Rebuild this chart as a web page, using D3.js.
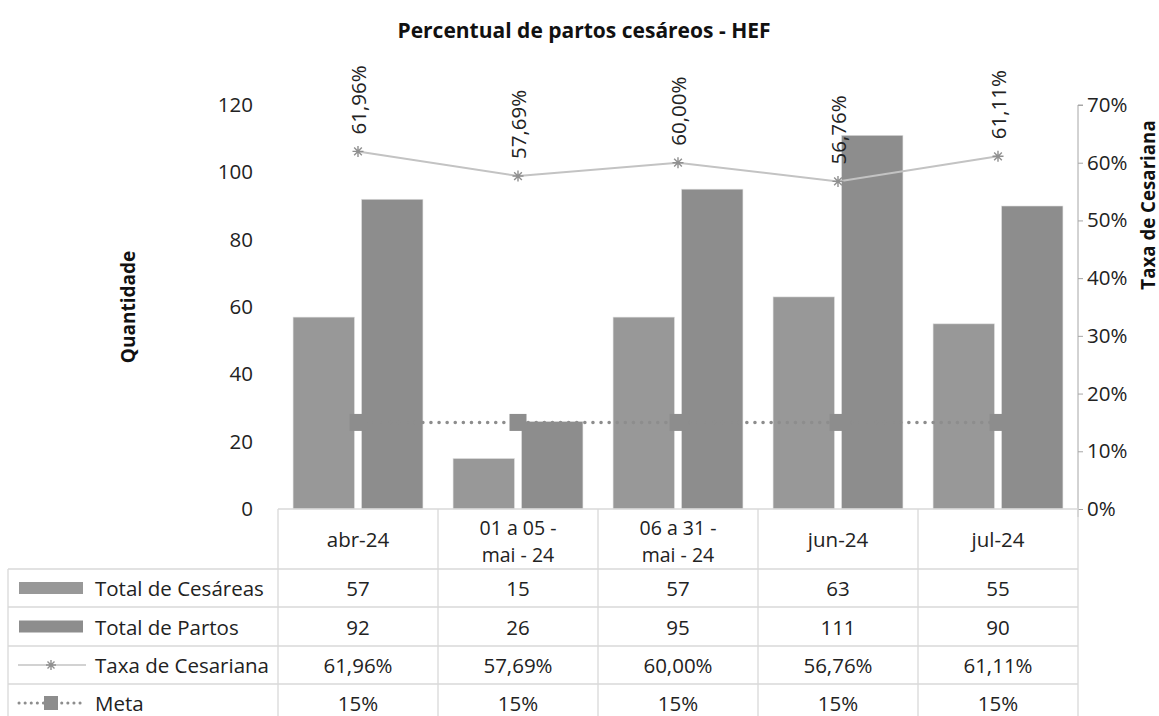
<!DOCTYPE html>
<html><head><meta charset="utf-8">
<script src="https://cdn.jsdelivr.net/npm/d3@7"></script>
<style>body{margin:0;background:#fff;}text{font-family:"Open Sans",sans-serif;}</style>
</head><body><svg id="c" width="1159" height="716"></svg>
<script>
const categories = [["abr-24"],["01 a 05 -","mai - 24"],["06 a 31 -","mai - 24"],["jun-24"],["jul-24"]];
const cesareas = [57,15,57,63,55];
const partos = [92,26,95,111,90];
const taxa = [61.96,57.69,60.00,56.76,61.11];
const meta = [15,15,15,15,15];
const leftTicks = [0,20,40,60,80,100,120];
const rightTicks = [0,10,20,30,40,50,60,70];
const fmt = v => v.toFixed(2).replace(".", ",") + "%";

const FS = 20.5;
const FF = "'Open Sans',sans-serif";
const svg = d3.select("#c");
const L = 278, R = 1078, T = 105, B = 509;
const x = d3.scaleBand().domain(d3.range(5)).range([L,R]);
const inner = d3.scaleBand().domain([0,1]).range([0,x.bandwidth()]).paddingInner(0.103).paddingOuter(0.22);
const yL = d3.scaleLinear().domain([0,120]).range([B,T]);
const yR = d3.scaleLinear().domain([0,70]).range([B,T]);
const cCes = "#989898", cPar = "#8d8d8d", cGrid = "#d9d9d9";

// title
svg.append("text").attr("x",584).attr("y",38).attr("text-anchor","middle")
  .attr("font-size",21).attr("font-weight","bold").attr("fill","#111").text("Percentual de partos cesáreos - HEF");

// left axis
const ga = svg.append("g").attr("transform",`translate(${L},0)`)
  .call(d3.axisLeft(yL).tickValues(leftTicks).tickSize(0).tickPadding(25));
ga.select(".domain").remove();
ga.selectAll("text").attr("font-size",FS).attr("fill","#222").style("font-family",FF);
// right axis
const gr = svg.append("g").attr("transform",`translate(${R},0)`)
  .call(d3.axisRight(yR).tickValues(rightTicks).tickSize(5).tickPadding(4).tickFormat(d=>d+"%"));
gr.select(".domain").attr("stroke","#a6a6a6");
gr.selectAll(".tick line").attr("stroke","#a6a6a6");
gr.selectAll("text").attr("font-size",FS).attr("fill","#222").style("font-family",FF);
gr.select(".domain").attr("d",`M5,${T}H0V${B+8}`);

svg.append("text").attr("transform",`translate(135,${(T+B)/2}) rotate(-90)`).attr("text-anchor","middle")
  .attr("font-size",19).attr("font-weight","bold").attr("fill","#111").text("Quantidade");
svg.append("text").attr("transform",`translate(1155,205) rotate(-90)`).attr("text-anchor","middle")
  .attr("font-size",18.7).attr("font-weight","bold").attr("fill","#111").text("Taxa de Cesariana");

// bars
svg.append("g").selectAll("rect").data(cesareas).join("rect")
  .attr("x",(d,i)=>x(i)+inner(0)).attr("width",inner.bandwidth())
  .attr("y",d=>yL(d)).attr("height",d=>B-yL(d)).attr("fill",cCes).attr("stroke","#e0e0e0").attr("stroke-width",0.6);
svg.append("g").selectAll("rect").data(partos).join("rect")
  .attr("x",(d,i)=>x(i)+inner(1)).attr("width",inner.bandwidth())
  .attr("y",d=>yL(d)).attr("height",d=>B-yL(d)).attr("fill",cPar).attr("stroke","#e0e0e0").attr("stroke-width",0.6);

const cx = i => x(i)+x.bandwidth()/2;
// meta line
svg.append("path").datum(meta).attr("fill","none").attr("stroke","#8d8d8d").attr("stroke-width",3.5)
  .attr("stroke-dasharray","0.1 8").attr("stroke-linecap","round")
  .attr("d",d3.line().x((d,i)=>cx(i)).y(d=>yR(d)));
svg.append("g").selectAll("rect").data(meta).join("rect")
  .attr("x",(d,i)=>cx(i)-8.5).attr("y",d=>yR(d)-8.5).attr("width",17).attr("height",17).attr("fill","#8d8d8d");

// taxa line
svg.append("path").datum(taxa).attr("fill","none").attr("stroke","#c3c3c3").attr("stroke-width",2)
  .attr("d",d3.line().x((d,i)=>cx(i)).y(d=>yR(d)));
const star = (g,px,py,s,col)=>{
  g.append("path").attr("d",`M${px-s},${py}H${px+s}M${px-s*0.7},${py-s*0.7}L${px+s*0.7},${py+s*0.7}M${px-s*0.7},${py+s*0.7}L${px+s*0.7},${py-s*0.7}M${px},${py-s}V${py+s}`)
   .attr("stroke",col).attr("stroke-width",1.4).attr("fill","none");
};
const sg = svg.append("g");
taxa.forEach((d,i)=>star(sg,cx(i),yR(d),5.5,"#909090"));
svg.append("g").selectAll("text").data(taxa).join("text")
  .attr("transform",(d,i)=>`translate(${cx(i)+8},${yR(d)-17}) rotate(-90)`)
  .attr("font-size",FS).attr("fill","#222").text(d=>fmt(d));

// table
const rows = [B, 569, 607, 646, 684, 722];
const TL = 8;
const tg = svg.append("g").attr("stroke",cGrid).attr("stroke-width",1.3);
tg.append("line").attr("x1",L).attr("x2",R).attr("y1",B).attr("y2",B);
rows.slice(1).forEach(y=>tg.append("line").attr("x1",TL).attr("x2",R).attr("y1",y).attr("y2",y));
tg.append("line").attr("x1",TL).attr("x2",TL).attr("y1",rows[1]).attr("y2",716);
d3.range(6).forEach(i=>{
  const xx = i<5 ? x(i) : R;
  tg.append("line").attr("x1",xx).attr("x2",xx).attr("y1",B).attr("y2",716);
});

// header labels
categories.forEach((c,i)=>{
  if(c.length===1) svg.append("text").attr("text-anchor","middle").attr("font-size",FS).attr("fill","#222")
    .attr("x",cx(i)).attr("y",547).text(c[0]);
  else c.forEach((s,k)=>svg.append("text").attr("text-anchor","middle").attr("font-size",19.5).attr("fill","#222")
    .attr("x",cx(i)).attr("y",535+k*27).text(s));
});
const rowData = [cesareas.map(String), partos.map(String), taxa.map(fmt), meta.map(d=>d+"%")];
rowData.forEach((r,ri)=>{
  const yc = (rows[ri+1]+rows[ri+2])/2 + 8;
  r.forEach((v,i)=>svg.append("text").attr("x",cx(i)).attr("y",yc).attr("text-anchor","middle")
    .attr("font-size",FS).attr("fill","#222").text(v));
});
// legend column
const names = ["Total de Cesáreas","Total de Partos","Taxa de Cesariana","Meta"];
names.forEach((n,ri)=>{
  const yc = (rows[ri+1]+rows[ri+2])/2;
  svg.append("text").attr("x",95).attr("y",yc+8).attr("font-size",FS).attr("fill","#222").text(n);
});
let y0 = (rows[1]+rows[2])/2; svg.append("rect").attr("x",19).attr("y",y0-6).attr("width",64).attr("height",12).attr("fill",cCes);
y0 = (rows[2]+rows[3])/2; svg.append("rect").attr("x",19).attr("y",y0-6).attr("width",64).attr("height",12).attr("fill",cPar);
y0 = (rows[3]+rows[4])/2;
svg.append("line").attr("x1",18).attr("x2",86).attr("y1",y0).attr("y2",y0).attr("stroke","#c3c3c3").attr("stroke-width",1.5);
star(svg,51,y0,5,"#909090");
y0 = (rows[4]+rows[5])/2;
svg.append("line").attr("x1",19).attr("x2",86).attr("y1",y0).attr("y2",y0).attr("stroke","#8d8d8d").attr("stroke-width",3)
  .attr("stroke-dasharray","0.1 6").attr("stroke-linecap","round");
svg.append("rect").attr("x",44).attr("y",y0-7).attr("width",14).attr("height",14).attr("fill","#8d8d8d");
</script></body></html>
